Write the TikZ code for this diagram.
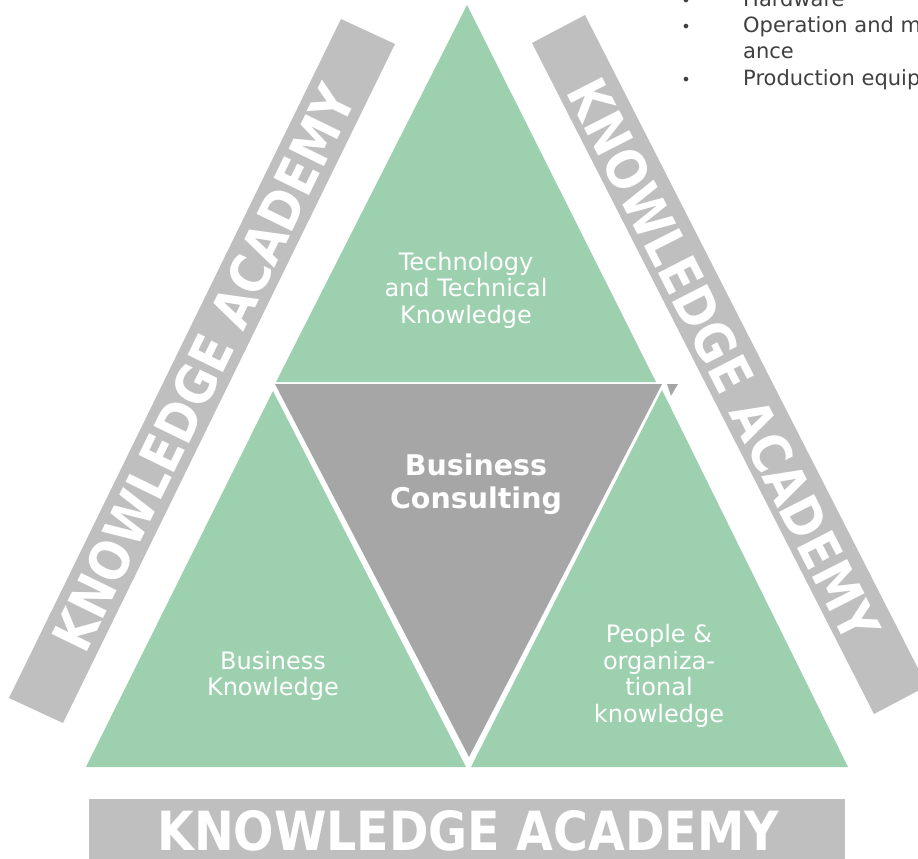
\documentclass[tikz,border=0pt]{standalone}
\usepackage{fontspec}
\setmainfont{DejaVu Sans}
\usepackage{graphicx}
\definecolor{tri}{HTML}{9DD0AE}
\definecolor{core}{HTML}{A6A6A6}
\definecolor{bar}{HTML}{BFBFBF}
\definecolor{txt}{HTML}{404040}
\tikzset{
  greentri/.style={fill=tri},
  coretri/.style={fill=core},
  barshape/.style={fill=bar},
  bartext/.style={text=white, inner sep=0pt, font=\bfseries\fontsize{54}{60}\selectfont},
  tritext/.style={text=white, align=center, inner sep=0pt, font=\fontsize{24}{26.5}\selectfont},
  coretext/.style={text=white, align=center, inner sep=0pt, font=\bfseries\fontsize{28.5}{33}\selectfont},
  listtext/.style={text=txt, anchor=base west, inner sep=0pt, font=\fontsize{21}{26}\selectfont},
  bullettext/.style={text=txt, anchor=base, inner sep=0pt, font=\fontsize{16}{26}\selectfont},
}
\begin{document}
\begin{tikzpicture}[x=1pt,y=-1pt]
\clip (0,0) rectangle (918,859);
\fill[white] (0,0) rectangle (918,859);
% bars
\fill[barshape] (9,698) -- (63,723) -- (395,44) -- (341,19) -- cycle;
\fill[barshape] (532,43) -- (585,15) -- (927,686) -- (874,714) -- cycle;
\fill[barshape] (89,799) rectangle (845,870);
% triangles
\fill[coretri] (275,384) -- (662,384) -- (469,757) -- cycle;
\fill[coretri] (667,384) -- (678,384) -- (671,396) -- cycle;
\fill[greentri] (467,5) -- (276,382) -- (656,382) -- cycle;
\fill[greentri] (273,391) -- (86,767) -- (466,767) -- cycle;
\fill[greentri] (662,390) -- (471,767) -- (848,767) -- cycle;
% texts
\node[tritext] (tech) at (466,290) {Technology\\and Technical\\Knowledge};
\node[coretext] (core) at (476,484) {Business\\Consulting};
\node[tritext] (biz) at (273,676) {Business\\Knowledge};
\node[tritext] (people) at (659,676) {People \&\\organiza-\\tional\\knowledge};
\node[bartext, rotate=64] (leftbar) at (204,368) {\scalebox{0.88}[1]{KNOWLEDGE ACADEMY}};
\node[bartext, rotate=-63] (rightbar) at (724,360) {\scalebox{0.88}[1]{KNOWLEDGE ACADEMY}};
\node[bartext] (bottombar) at (468,831) {\scalebox{0.88}[1]{KNOWLEDGE ACADEMY}};
% list
\node[bullettext] (b1) at (686,7) {•};
\node[listtext] (l1) at (743,7) {Hardware};
\node[bullettext] (b2) at (686,33) {•};
\node[listtext] (l2) at (743,33) {Operation and mainten};
\node[listtext] (l3) at (743,59) {ance};
\node[bullettext] (b3) at (686,85) {•};
\node[listtext] (l4) at (743,85) {Production equipment};
\end{tikzpicture}
\end{document}
